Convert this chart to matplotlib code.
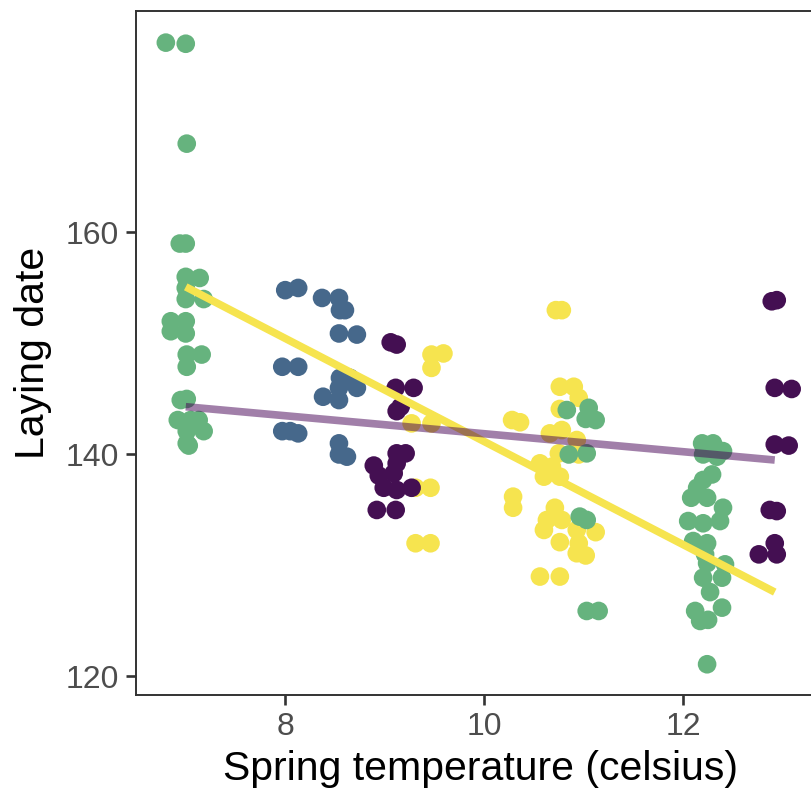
import matplotlib
matplotlib.use("Agg")
import matplotlib.pyplot as plt

plt.rcParams['font.family'] = ['Liberation Sans', 'DejaVu Sans']

# points, grouped by colour
purple_x = [9.06, 9.12, 9.11, 9.29, 9.12, 9.16, 9.12, 9.21, 9.12, 8.89, 8.94, 9.09,
            8.99, 9.12, 9.27, 8.92, 9.11,
            12.89, 12.94, 12.92, 13.09, 12.92, 13.06, 12.87, 12.94, 12.92, 12.94, 12.76]
purple_y = [150.1, 149.9, 146.0, 146.0, 143.9, 144.3, 140.1, 140.1, 139.2, 139.0, 138.1, 138.3,
            137.0, 136.8, 137.0, 135.0, 135.0,
            153.8, 153.9, 146.0, 145.9, 140.9, 140.8, 135.0, 134.9, 132.0, 131.0, 131.0]

blue_x = [8.00, 8.13, 8.37, 8.54, 8.55, 8.60, 8.54, 8.72, 7.97, 8.13, 8.55, 8.65,
          8.54, 8.72, 8.38, 8.54, 7.97, 8.05, 8.13, 8.54, 8.54, 8.62]
blue_y = [154.8, 155.0, 154.1, 154.1, 153.0, 153.0, 150.9, 150.8, 147.9, 147.9, 146.9, 146.9,
          146.0, 146.0, 145.2, 144.9, 142.1, 142.1, 141.9, 141.0, 140.0, 139.8]

green_x = [6.80, 7.00, 7.01, 6.94, 7.00, 7.00, 7.14, 7.00, 7.00, 7.18, 6.85, 7.00,
           6.85, 7.00, 7.01, 7.16, 7.01, 6.95, 7.01, 6.92, 7.05, 7.13, 7.01, 7.18, 7.01, 7.03,
           10.83, 11.05, 11.12, 11.02, 10.85, 11.03, 10.96, 11.03, 11.03, 11.15,
           12.19, 12.30, 12.40, 12.20, 12.34, 12.29, 12.20, 12.14, 12.08, 12.24, 12.40,
           12.37, 12.05, 12.20, 12.10, 12.24, 12.22, 12.24, 12.42, 12.20, 12.39, 12.27,
           12.12, 12.39, 12.17, 12.25, 12.24]
green_y = [177.1, 177.0, 168.0, 159.0, 159.0, 156.0, 155.9, 155.0, 154.0, 154.0, 152.0, 152.0,
           151.1, 150.9, 149.0, 149.0, 147.9, 144.9, 145.0, 143.1, 143.1, 143.1, 142.1, 142.1, 141.0, 140.8,
           144.0, 144.2, 143.1, 143.2, 140.0, 140.1, 134.4, 134.1, 125.9, 125.9,
           141.0, 141.0, 140.3, 140.0, 139.8, 138.2, 137.7, 137.0, 136.1, 136.1, 135.2,
           134.0, 134.0, 133.8, 132.2, 132.0, 131.0, 130.2, 130.1, 128.9, 128.9, 127.6,
           125.9, 126.2, 125.0, 125.1, 121.1]

yellow_x = [9.47, 9.59, 9.47, 9.27, 9.47, 9.31, 9.46, 9.31, 9.46,
            10.72, 10.78, 10.76, 10.90, 10.95, 10.76, 10.28, 10.36, 10.66, 10.78, 10.93,
            10.75, 10.95, 10.56, 10.68, 10.60, 10.76, 10.29, 10.29, 10.71, 10.63, 10.78,
            10.60, 10.76, 10.93, 11.12, 10.95, 10.93, 11.02, 10.56, 10.76]
yellow_y = [149.0, 149.1, 147.8, 142.8, 142.8, 137.0, 137.0, 132.0, 132.0,
            153.0, 153.0, 146.1, 146.1, 145.1, 144.1, 143.1, 142.9, 141.9, 142.2, 141.3,
            140.1, 140.0, 139.2, 138.9, 138.0, 138.0, 136.2, 135.2, 135.2, 134.1, 134.1,
            133.2, 132.1, 133.2, 133.0, 132.0, 131.1, 130.9, 129.0, 129.0]

# fitted lines (end points)
fit_x = [7.0, 12.92]
fit_yellow = [155.1, 127.6]
fit_purple = [144.3, 139.5]

fig = plt.figure(figsize=(8.12, 7.91), dpi=100)
ax = fig.add_axes([136 / 812, 96 / 791, 688.5 / 812, 684 / 791])

pt = dict(s=180, edgecolors='none', zorder=2)
ax.scatter(yellow_x, yellow_y, color='#F6E44F', **pt)
ax.scatter(purple_x, purple_y, color='#440F52', **pt)
ax.scatter(blue_x, blue_y, color='#46688B', **pt)
ax.scatter(green_x, green_y, color='#66B37E', **pt)

ax.plot(fit_x, fit_yellow, color='#F6E44F', linewidth=5.5, solid_capstyle='butt', zorder=3)
ax.plot(fit_x, fit_purple, color='#440154', alpha=0.5, linewidth=5.5,
        solid_capstyle='butt', zorder=4)

ax.set_xlim(6.50, 13.42)
ax.set_ylim(118.33, 179.95)
ax.set_xticks([8, 10, 12])
ax.set_yticks([120, 140, 160])

for sp in ax.spines.values():
    sp.set_color('#333333')
    sp.set_linewidth(1.4)

ax.tick_params(axis='both', length=7, width=1.9, color='#333333',
               labelsize=23, labelcolor='#4D4D4D', pad=5)

ax.set_xlabel('Spring temperature (celsius)', fontsize=29.5, color='black', labelpad=6)
ax.set_ylabel('Laying date', fontsize=29.5, color='black', labelpad=10)

plt.savefig('out.png', dpi=100)
